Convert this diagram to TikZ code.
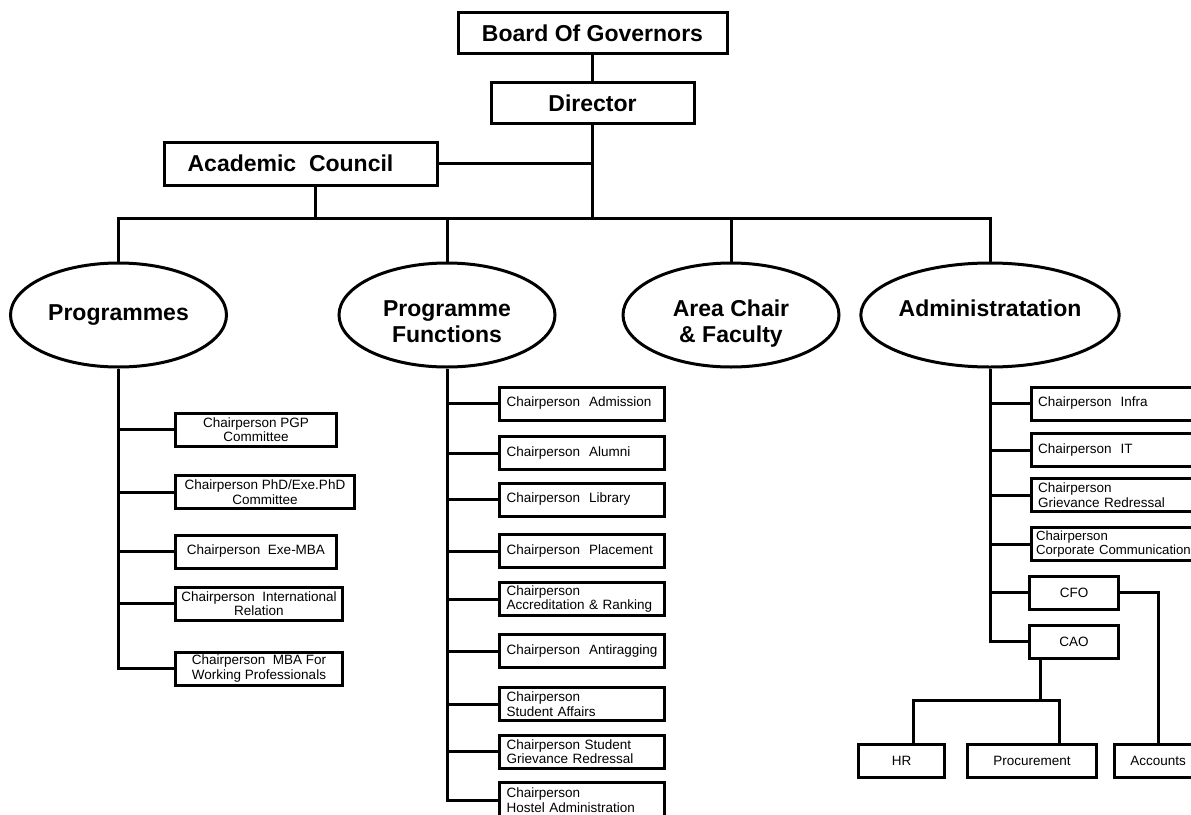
\documentclass[tikz,border=0pt]{standalone}
\usepackage{fontspec}
\setmainfont{Liberation Sans}
\usetikzlibrary{shapes.geometric}

\newcommand{\lowtext}[1]{\raisebox{-9pt}[\height][\depth]{\begin{tabular}{@{}c@{}}#1\end{tabular}}}

\begin{document}
\begin{tikzpicture}[x=1pt,y=-1pt,
	link/.style={line width=3pt},
	headbox/.style={draw=black,line width=3pt,inner sep=0pt,minimum height=41pt,font=\fontsize{23}{26}\selectfont\bfseries},
	unit/.style={shape=ellipse,draw=black,line width=3pt,inner sep=0pt,minimum width=216pt,minimum height=104pt,align=center,font=\fontsize{23}{26}\selectfont\bfseries},
	progbox/.style={draw=black,line width=3pt,inner sep=0pt,minimum height=33pt,align=center,font=\fontsize{13.5}{14.5}\selectfont},
	chairbox/.style={draw=black,line width=3pt,inner xsep=7pt,inner ysep=0pt,minimum height=33pt,text width=#1,align=left,font=\fontsize{13.5}{14.5}\selectfont},
	chairbox/.default=151pt]

	\useasboundingbox (0,0) rectangle (1191,814);
	\fill[white] (0,0) rectangle (1191,814);
	\clip (0,0) rectangle (1191,814);

	\node[headbox,minimum width=269pt] (board) at (592.5,33) {Board Of Governors};
	\node[headbox,minimum width=203pt] (director) at (592.5,103) {Director};
	\node[headbox,minimum width=273pt,minimum height=43pt] (council) at (300.5,163.5) {Academic\ \ Council\hspace*{20pt}};
	\coordinate (bus) at (592.5,218);

	\node[unit] (prog) at (118.5,315) {Programmes};
	\node[unit] (func) at (447,315) {\lowtext{Programme\\Functions}};
	\node[unit] (area) at (731,315) {\lowtext{Area Chair\\\& Faculty}};
	\node[unit] (admin) at (990,315) {Administratation\\[-12pt]\mbox{}};

	\node[progbox,minimum width=161.5pt] (pgp) at (256,429.5) {Chairperson PGP\\Committee};
	\node[progbox,minimum width=179.5pt] (phd) at (265,492) {Chairperson PhD/Exe.PhD\\Committee};
	\node[progbox,minimum width=161.5pt] (exemba) at (256,551.5) {Chairperson\ \ Exe-MBA};
	\node[progbox,minimum width=167.5pt] (intl) at (259,603.5) {Chairperson\ \ International\\Relation};
	\node[progbox,minimum width=167.5pt] (mbawp) at (259,668.5) {Chairperson\ \ MBA For\\Working Professionals};

	\node[chairbox] (admission) at (582,403.5) {Chairperson\ \ Admission};
	\node[chairbox] (alumni) at (582,453) {Chairperson\ \ Alumni};
	\node[chairbox] (library) at (582,499.5) {Chairperson\ \ Library};
	\node[chairbox] (placement) at (582,551) {Chairperson\ \ Placement};
	\node[chairbox] (accred) at (582,599) {Chairperson\\Accreditation \& Ranking};
	\node[chairbox] (antirag) at (582,651) {Chairperson\ \ Antiragging};
	\node[chairbox] (affairs) at (582,704) {Chairperson\\Student Affairs};
	\node[chairbox] (sgriev) at (582,751.5) {Chairperson Student\\Grievance Redressal};
	\node[chairbox,minimum height=36pt] (hostel) at (582,800) {Chairperson\\Hostel Administration};

	\node[chairbox=190pt,anchor=west] (infra) at (1029.5,403.5) {Chairperson\ \ Infra};
	\node[chairbox=190pt,anchor=west] (it) at (1029.5,450) {Chairperson\ \ IT};
	\node[chairbox=190pt,anchor=west] (agriev) at (1029.5,495) {Chairperson\\Grievance Redressal};
	\node[chairbox=190pt,anchor=west,inner xsep=5pt,font=\fontsize{13.2}{14.5}\selectfont] (corpcomm) at (1029.5,544) {Chairperson\\Corporate Communication};
	\node[progbox,minimum width=89.5pt] (cfo) at (1074,592.5) {CFO};
	\node[progbox,minimum width=89.5pt] (cao) at (1074,641.5) {CAO};
	\coordinate (split) at (1040,700);
	\node[progbox,minimum width=86.5pt] (hr) at (901.5,760.5) {HR};
	\node[progbox,minimum width=129.5pt] (procure) at (1032,760.5) {Procurement};
	\node[progbox,minimum width=87.5pt] (accounts) at (1158,760.5) {Accounts};

	\path[link] (board) edge (director);
	\path[link] (director) edge (bus);
	\path[link] (council.east) edge (council.east -| bus);
	\path[link] ([xshift=15pt]council.south) edge ([xshift=15pt]council.south |- bus);
	\draw[link] (prog.north) |- (bus) -| (admin.north);
	\path[link] (func.north) edge (func.north |- bus);
	\path[link] (area.north) edge (area.north |- bus);

	\draw[link] (prog.south) |- (mbawp.west);
	\path[link] (prog.south |- pgp.west) edge (pgp.west);
	\path[link] (prog.south |- phd.west) edge (phd.west);
	\path[link] (prog.south |- exemba.west) edge (exemba.west);
	\path[link] (prog.south |- intl.west) edge (intl.west);

	\draw[link] (func.south) |- (hostel.west);
	\path[link] (func.south |- admission.west) edge (admission.west);
	\path[link] (func.south |- alumni.west) edge (alumni.west);
	\path[link] (func.south |- library.west) edge (library.west);
	\path[link] (func.south |- placement.west) edge (placement.west);
	\path[link] (func.south |- accred.west) edge (accred.west);
	\path[link] (func.south |- antirag.west) edge (antirag.west);
	\path[link] (func.south |- affairs.west) edge (affairs.west);
	\path[link] (func.south |- sgriev.west) edge (sgriev.west);

	\draw[link] (admin.south) |- (cao.west);
	\path[link] (admin.south |- infra.west) edge (infra.west);
	\path[link] (admin.south |- it.west) edge (it.west);
	\path[link] (admin.south |- agriev.west) edge (agriev.west);
	\path[link] (admin.south |- corpcomm.west) edge (corpcomm.west);
	\path[link] (admin.south |- cfo.west) edge (cfo.west);

	\draw[link] (cfo.east) -| (accounts.north);
	\path[link] ([xshift=-34pt]cao.south) edge (split);
	\draw[link] ([xshift=11.5pt]hr.north) |- (split) -| ([xshift=27pt]procure.north);
\end{tikzpicture}
\end{document}
